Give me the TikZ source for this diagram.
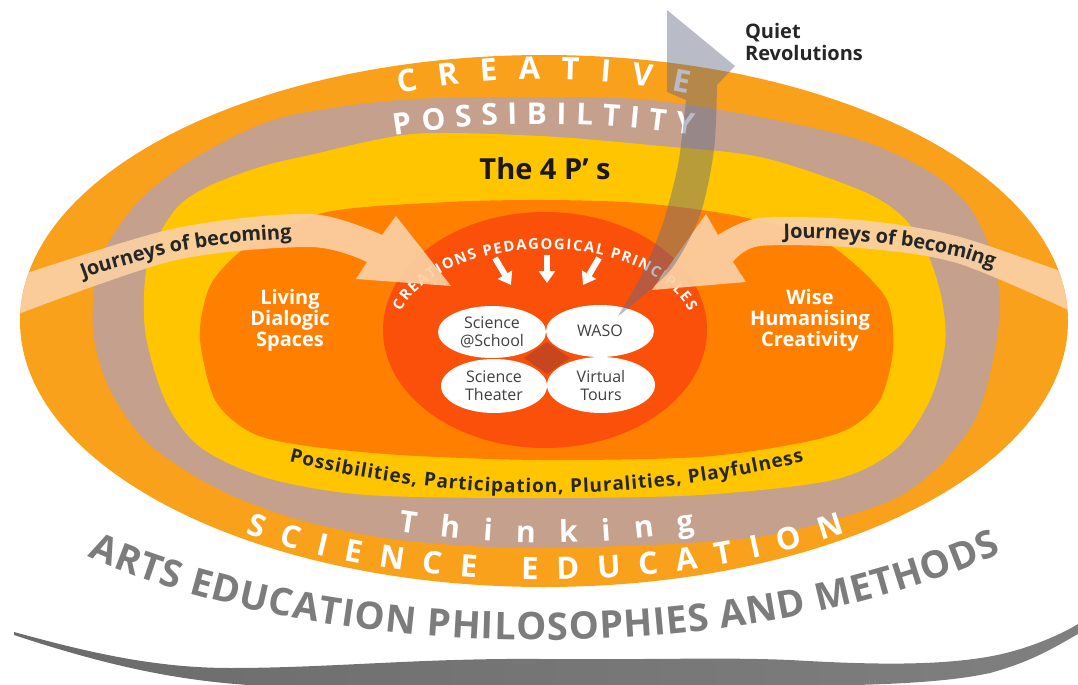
\documentclass[tikz,border=0pt]{standalone}
\usepackage{fontspec}
\setmainfont{Open Sans}
\usetikzlibrary{arrows.meta, decorations.text, shapes.geometric}

\definecolor{outerorange}{HTML}{F9A11B}
\definecolor{tanband}{HTML}{C4A08D}
\definecolor{yellowband}{HTML}{FFC600}
\definecolor{innerorange}{HTML}{FF8000}
\definecolor{coreorange}{HTML}{FA500A}
\definecolor{coredark}{HTML}{C8461E}
\definecolor{peach}{HTML}{FAD0A4}
\definecolor{slategray}{HTML}{646982}
\definecolor{titlegray}{HTML}{7C7C7C}

\newcommand{\ringfont}{\fontsize{15.5}{16}\selectfont\bfseries}
\newcommand{\tanfont}{\fontsize{15}{16}\selectfont\bfseries}
\newcommand{\pathfont}{\fontsize{9.5}{10}\selectfont\bfseries}
\newcommand{\corefont}{\fontsize{7.4}{8}\selectfont\bfseries}
\newcommand{\basefont}{\fontsize{19}{20}\selectfont\bfseries}
\newcommand{\journeyfont}{\fontsize{10}{11}\selectfont\bfseries}

% outline of the outer ring, used for filling and clipping
\newcommand{\outerring}{(544,321) ellipse[x radius=524, y radius=266]}

\begin{document}
\begin{tikzpicture}[
        x=0.5pt, y=-0.5pt,
        ringword/.style={decorate, decoration={text along path, text align={fit to path}, text color=white}},
        bandword/.style={decorate, decoration={text along path, text align=center, text color=black!85}},
        ringlabel/.style={text=white, align=center, font=\fontsize{10}{10.5}\selectfont\bfseries},
        pill/.style={ellipse, fill=white, inner sep=0pt, align=center, text=black!75, font=\fontsize{8}{9}\selectfont},
        journey/.style={fill=peach, fill opacity=0.92},
        quietarrow/.style={fill=slategray, fill opacity=0.45},
        pedarrow/.style={draw=white, line width=3pt, -{Triangle[length=6pt, width=8pt]}}
    ]
    \useasboundingbox (0,0) rectangle (1078,685);

    % base swoosh
    \shade[left color=black!58, middle color=black!22, right color=black!50]
        (14,632) .. controls (80,650) and (150,668) .. (230,668)
        .. controls (330,668) and (420,658) .. (540,659)
        .. controls (650,660) and (720,657) .. (790,660)
        .. controls (860,664) and (950,668) .. (1010,652)
        .. controls (1040,644) and (1065,632) .. (1078,624)
        -- (1078,634) .. controls (1050,650) and (1030,662) .. (990,673)
        .. controls (940,684) and (860,686) .. (760,686)
        -- (300,687) .. controls (200,686) and (120,670) .. (14,635) -- cycle;

    % rings
    \fill[outerorange] \outerring;
    \fill[tanband] plot[smooth cycle] coordinates {(93,330) (100,260) (140,200) (200,155) (280,118) (400,100) (540,97) (650,100) (760,117) (860,140) (930,172) (970,208) (992,255) (1000,305) (993,360) (975,420) (935,470) (880,505) (750,538) (540,548) (400,540) (300,520) (220,490) (150,445) (110,390)};
    \fill[yellowband] plot[smooth cycle] coordinates {(145,330) (148,260) (175,210) (207,187) (260,167) (310,155) (413,134) (540,136) (650,145) (760,157) (860,190) (903,217) (928,255) (942,300) (945,345) (930,400) (895,450) (833,480) (700,495) (540,498) (367,495) (267,478) (200,447) (165,400)};
    \fill[innerorange] plot[smooth cycle] coordinates {(200,340) (205,300) (217,275) (250,245) (327,212) (448,202) (546,200) (640,203) (733,215) (810,235) (850,260) (887,300) (893,350) (880,400) (850,428) (800,443) (700,457) (540,460) (400,455) (300,445) (250,432) (215,400)};
    \fill[coreorange] (545,330) ellipse[x radius=162, y radius=118];

    % projects
    \fill[coredark] (547,342) -- (570,358) -- (547,374) -- (524,358) -- cycle;
    \node[pill, minimum width=54pt, minimum height=26pt] (school) at (492,332) {Science\\@School};
    \node[pill, minimum width=54pt, minimum height=26pt] (waso) at (600,331) {WASO};
    \node[pill, minimum width=53pt, minimum height=27pt] (theater) at (494,386) {Science\\Theater};
    \node[pill, minimum width=54pt, minimum height=28pt] (tours) at (601,385) {Virtual\\Tours};

    % ring texts
    \path[ringword, decoration={text={|\ringfont|CREATIVE}}]
        plot[domain=250:290, samples=40, variable=\t] ({544+423*cos(\t)}, {321+242*sin(\t)});
    \path[ringword, decoration={text={|\tanfont|POSSIBILTITY}}]
        plot[domain=250.2:289.8, samples=40, variable=\t] ({544+440*cos(\t)}, {321+197*sin(\t)});
    \path[ringword, decoration={text={|\tanfont|Thinking}}]
        plot[domain=109.2:70.6, samples=40, variable=\t] ({546+449*cos(\t)}, {330+213*sin(\t)});
    \path[ringword, decoration={text={|\ringfont|SCIENCE EDUCATION}}]
        plot[domain=124.7:55, samples=50, variable=\t] ({544+525*cos(\t)}, {321+259*sin(\t)});
    \path[ringword, decoration={text={|\basefont|ARTS EDUCATION PHILOSOPHIES AND METHODS}, text color=titlegray}]
        plot[domain=133:46, samples=60, variable=\t] ({540+664*cos(\t)}, {330+310*sin(\t)});
    \path[ringword, decoration={text={|\pathfont|Possibilities, Participation, Pluralities, Playfulness}, text color=black!85}]
        plot[domain=289:804, samples=50, variable=\t] (\t, {493-4.7*((\t-546)/100)^2});
    \path[ringword, decoration={text={|\corefont|CREATIONS PEDAGOGICAL PRINCIPLES}}]
        plot[domain=196:344, samples=40, variable=\t] ({545+150*cos(\t)}, {335+86*sin(\t)});

    \node[font=\fontsize{14.5}{15}\selectfont\bfseries, text=black!90] (fourps) at (545,169) {The 4 P' s};
    \node[ringlabel] (living) at (290,320) {Living\\Dialogic\\Spaces};
    \node[ringlabel] (wise) at (810,320) {Wise\\Humanising\\Creativity};

    % journeys of becoming
    \begin{scope}
        \clip \outerring;
        \fill[journey] plot[smooth] coordinates {(0,282) (172,229) (310,214) (382,235)} -- (396,216) -- (451,286) -- (356,279) -- (367,262) -- plot[smooth] coordinates {(367,262) (310,247) (172,261) (0,321)} -- cycle;
        \fill[journey] plot[smooth] coordinates {(1090,282) (960,237) (860,220) (760,218) (718,235)} -- (706,214) -- (652,290) -- (746,282) -- (733,262) -- plot[smooth] coordinates {(733,262) (760,246) (860,248) (960,264) (1090,320)} -- cycle;
    \end{scope}
    \path[bandword, decoration={text={|\journeyfont|Journeys of becoming}, raise=-3.5pt}]
        plot coordinates {(30,291) (100,265) (172,245) (240,235) (310,230) (345,236)};
    \path[bandword, decoration={text={|\journeyfont|Journeys of becoming}, raise=-3.5pt}]
        plot coordinates {(725,237) (760,232) (810,231) (860,234) (910,240) (960,250) (1005,265) (1050,284)};

    % quiet revolutions
    \fill[quietarrow] (667,10) -- (735,66) -- (717,85) -- plot[smooth] coordinates {(717,85) (714,150) (700,215) (672,268) (632,305) (618,316)} -- plot[smooth] coordinates {(618,316) (641,276) (662,226) (678,165) (686,100)} -- (667,92) -- cycle;
    \node[anchor=north west, align=left, text=black!85, font=\fontsize{10}{11}\selectfont\bfseries] (quiet) at (738,16) {Quiet\\Revolutions};

    % principles flowing into the projects
    \coordinate (p1s) at (495,258); \coordinate (p1e) at (511,285);
    \coordinate (p2s) at (547,255); \coordinate (p2e) at (547,283);
    \coordinate (p3s) at (599,258); \coordinate (p3e) at (583,285);
    \draw[pedarrow] (p1s) -- (p1e);
    \draw[pedarrow] (p2s) -- (p2e);
    \draw[pedarrow] (p3s) -- (p3e);
\end{tikzpicture}
\end{document}
